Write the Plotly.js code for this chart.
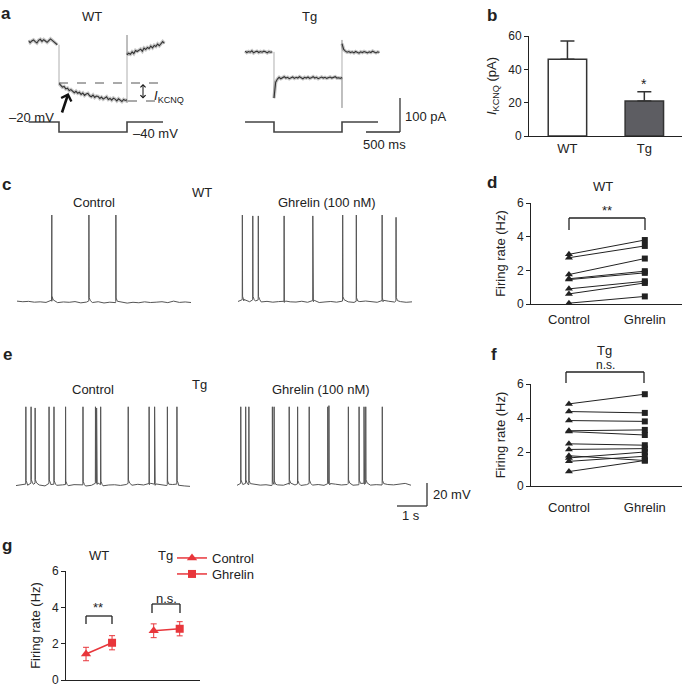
<!DOCTYPE html>
<html><head><meta charset="utf-8">
<script src="https://cdn.plot.ly/plotly-3.0.1.min.js"></script>
<style>html,body{margin:0;padding:0;background:#fff}#chart{width:685px;height:688px}</style>
</head><body><div id="chart"></div>
<script>
// ---------------- DATA ----------------
// Panel a: KCNQ current recordings (pA), sampled every 25 ms
const aDt = 25;
const wtPre  = [4,-2,3,6,1,-3,5,8,2,7,3,-1,4,9,5,1,-4,-8];
const wtStep = [-122,-127,-133,-131,-138,-136,-143,-140,-146,-149,-145,-151,-148,-154,-150,-157,-153,-151,-158,-161,-156,-163,-159,-160,-166,-162,-168,-164,-161,-169,-166,-171,-165,-168,-173,-167,-170,-175,-169,-172,-170];
const wtOff  = [-179, 29];
const wtPost = [-38,-33,-36,-29,-34,-25,-28,-24,-21,-27,-18,-22,-16,-19,-12,-17,-10,-13,-6,-11,-3,1,-4];
const tgPre  = [-27,-31,-28,-30,-26,-32,-29,-27,-31,-28,-30,-27,-29,-32,-28,-30,-29];
const tgStep = [-165,-118,-109,-104,-108,-105,-102,-106,-104,-108,-105,-103,-107,-104,-106,-102,-105,-108,-104,-106,-103,-107,-105,-102,-106,-104,-108,-105,-103,-106,-104,-107,-105,-103,-106,-104,-102,-106,-105,-107,-104];
const tgOff  = [-194, 6];
const tgPost = [-5,-22,-27,-30,-28,-31,-29,-32,-28,-30,-33,-29,-31,-28,-30,-32,-29,-31,-27,-30,-32,-29,-31];
// voltage protocol (ms, mV)
const protocolT_WT = [-450,0,0,1000,1000,1530];
const protocolT_Tg = [-426,0,0,1000,1000,1530];
const protocolV    = [-20,-20,-40,-40,-20,-20];

// Panel b
const bCats = ['WT','Tg'];
const bMeans = [46, 21];
const bErr = [11, 5.5];

// Panels c / e: membrane potential (mV), baseline sampled every 0.2 s; spike times (s) and peaks (mV)
const vDt = 0.2;
const cCtrlBase = [-55.3,-55.8,-55.5,-56.2,-55.9,-56.4,-55.4,-56.6,-56.0,-56.3,-55.7,-56.8,-56.1,-56.5,-55.8,-56.9,-56.2,-56.6,-56.0,-57.0,-56.3,-56.7,-55.9,-56.5,-56.2,-55.8,-56.6,-55.3,-56.4,-56.0,-56.5];
const cCtrlSpikes = [1.20,2.48,3.41];
const cCtrlPeaks  = [19.6,19.6,19.6];
const cGhrBase = [-55.6,-55.0,-55.8,-55.2,-56.0,-55.5,-56.2,-55.7,-56.4,-55.9,-56.1,-55.4,-56.3,-55.8,-56.5,-56.0,-55.6,-56.2,-55.3,-55.9,-56.4,-55.7,-55.2,-56.0,-56.3,-55.8,-55.4,-56.1,-55.7,-56.3,-55.9];
const cGhrSpikes = [0.15,0.51,0.70,1.59,2.58,3.61,4.08,4.97,5.45];
const cGhrPeaks  = [19.6,18.8,18.8,18.8,18.8,19.6,19.6,19.6,17.6];
const eCtrlBase = [-56.5,-55.8,-56.2,-55.4,-56.0,-56.8,-55.6,-56.3,-55.9,-56.6,-55.7,-56.1,-56.9,-56.3,-55.5,-56.7,-56.0,-55.8,-56.4,-55.6,-56.2,-55.4,-56.0,-55.7,-56.3,-55.9,-56.5,-55.6,-56.2,-56.8,-57.2];
const eCtrlSpikes = [0.34,0.52,0.66,1.14,1.31,1.71,2.31,2.74,2.78,2.92,3.87,4.59,4.78,5.22,5.55];
const eCtrlPeaks  = [12,12,11,12,12,12,12,12,11,12,12,12,12,12,12];
const eGhrBase = [-56.3,-55.6,-56.0,-55.4,-56.1,-55.8,-56.5,-55.9,-56.2,-55.5,-56.0,-56.4,-55.7,-56.1,-55.6,-56.3,-55.9,-55.3,-56.0,-55.6,-56.2,-55.8,-55.5,-56.1,-55.7,-56.0,-55.6,-55.9,-55.4,-54.6,-56.2];
const eGhrSpikes = [0.13,0.30,0.41,1.22,1.28,1.80,2.09,2.49,3.13,3.17,3.84,4.21,4.38,4.44,5.01];
const eGhrPeaks  = [12,12,12,12,12,12,12,12,12,13,12,12,12,12,12];

// Panels d / f: paired firing rates (Hz)
const condLabels = ['Control','Ghrelin'];
const dWTControl = [2.95,2.75,1.75,1.50,1.45,0.90,0.60,0.05];
const dWTGhrelin = [3.80,3.45,2.70,1.95,1.85,1.35,1.25,0.45];
const fTgControl = [4.83,4.38,3.85,3.25,3.20,2.48,2.15,1.78,1.65,1.45,0.85];
const fTgGhrelin = [5.40,4.30,3.80,3.30,3.00,2.40,2.20,1.50,2.00,1.75,1.50];

// Panel g: mean ± SEM firing rate (Hz)
const gGroups = ['WT','Tg'];
const gControlMean = [1.43, 2.71];
const gControlSem  = [0.37, 0.38];
const gGhrelinMean = [2.05, 2.82];
const gGhrelinSem  = [0.39, 0.39];

// ---------------- HELPERS ----------------
const W = 685, H = 688;
const X = px => px / W;
const Y = py => 1 - py / H;
const FONT = 'Liberation Sans, Arial, Helvetica, sans-serif';
const INK = '#222';
const RED = '#e8363b';
const TRACE = '#333';

// noisy segments (separated by gaps) and the fast transitions between them
function buildCurrent(pre, step, off, post){
  const x = [], y = [];
  pre.forEach((v,i)=>{ x.push((i - pre.length) * aDt); y.push(v); });
  x.push(null); y.push(null);
  step.forEach((v,i)=>{ x.push(i * aDt); y.push(v); });
  x.push(null); y.push(null);
  post.forEach((v,i)=>{ x.push(1000 + i * aDt); y.push(v); });
  const tx = [0, 0, null, 1000], ty = [pre[pre.length-1], step[0], null, step[step.length-1]];
  off.forEach(v=>{ tx.push(1000); ty.push(v); });
  tx.push(1000); ty.push(post[0]);
  return {x, y, tx, ty};
}
function buildSpikes(base, spikes, peaks){
  const pts = base.map((v,i)=>[i * vDt, v]);
  spikes.forEach((ts,k)=>{
    const vb = base[Math.min(base.length - 1, Math.round(ts / vDt))];
    pts.push([ts - 0.004, vb + 1], [ts, peaks[k]], [ts + 0.008, vb + 4], [ts + 0.05, vb + 1.2]);
  });
  pts.sort((a,b)=>a[0]-b[0]);
  return {x: pts.map(p=>p[0]), y: pts.map(p=>p[1])};
}

const traces = [];
// Panel a
[[buildCurrent(wtPre, wtStep, wtOff, wtPost),'x'],[buildCurrent(tgPre, tgStep, tgOff, tgPost),'x2']].forEach(([c,xa])=>{
  traces.push({x:c.tx, y:c.ty, xaxis:xa, yaxis:'y', mode:'lines', line:{color:'#9a9a9a', width:0.8}, showlegend:false, hoverinfo:'skip'});
  traces.push({x:c.x, y:c.y, xaxis:xa, yaxis:'y', mode:'lines', line:{color:'rgba(0,0,0,0.22)', width:3.5}, showlegend:false, hoverinfo:'skip'});
  traces.push({x:c.x, y:c.y, xaxis:xa, yaxis:'y', mode:'lines', line:{color:TRACE, width:1.1}, showlegend:false, hoverinfo:'skip'});
});
traces.push({x: protocolT_WT, y: protocolV, xaxis:'x', yaxis:'y2', mode:'lines', line:{color:'#444', width:1.6}, showlegend:false, hoverinfo:'skip'});
traces.push({x: protocolT_Tg, y: protocolV, xaxis:'x2', yaxis:'y2', mode:'lines', line:{color:'#444', width:1.6}, showlegend:false, hoverinfo:'skip'});

// Panels c, e
[[cCtrlBase,cCtrlSpikes,cCtrlPeaks,'x3','y3'],[cGhrBase,cGhrSpikes,cGhrPeaks,'x4','y3'],
 [eCtrlBase,eCtrlSpikes,eCtrlPeaks,'x5','y4'],[eGhrBase,eGhrSpikes,eGhrPeaks,'x6','y4']].forEach(([b,s,p,xa,ya])=>{
  const t = buildSpikes(b,s,p);
  traces.push({x:t.x, y:t.y, xaxis:xa, yaxis:ya, mode:'lines', line:{color:'#555', width:1}, showlegend:false, hoverinfo:'skip'});
});

// Panel b
traces.push({type:'bar', x: bCats.map((_,i)=>i), y: bMeans, xaxis:'x7', yaxis:'y5', width:0.5,
  marker:{color:['#ffffff','#5d5d62'], line:{color:'#333', width:1.5}},
  error_y:{type:'data', symmetric:false, array:bErr, arrayminus:[0,0], color:'#333', thickness:1.5, width:7},
  showlegend:false, hoverinfo:'skip'});

// Panels d, f (paired lines)
function pairedTraces(ctrl, ghr, xa, ya){
  const lx = [], ly = [];
  ctrl.forEach((v,i)=>{ lx.push(0,1,null); ly.push(v, ghr[i], null); });
  traces.push({x:lx, y:ly, xaxis:xa, yaxis:ya, mode:'lines', line:{color:INK, width:1}, showlegend:false, hoverinfo:'skip', cliponaxis:false});
  traces.push({x:ctrl.map(()=>0), y:ctrl, xaxis:xa, yaxis:ya, mode:'markers', marker:{symbol:'triangle-up', size:7, color:INK}, showlegend:false, hoverinfo:'skip', cliponaxis:false});
  traces.push({x:ghr.map(()=>1), y:ghr, xaxis:xa, yaxis:ya, mode:'markers', marker:{symbol:'square', size:6, color:INK}, showlegend:false, hoverinfo:'skip', cliponaxis:false});
}
pairedTraces(dWTControl, dWTGhrelin, 'x8', 'y6');
pairedTraces(fTgControl, fTgGhrelin, 'x9', 'y7');

// Panel g
const G_SPACING = 2.6;
const gx = (g, c) => g * G_SPACING + c;
gGroups.forEach((g,i)=>{
  traces.push({x:[gx(i,0), gx(i,1)], y:[gControlMean[i], gGhrelinMean[i]], xaxis:'x10', yaxis:'y8', mode:'lines', line:{color:RED, width:1.5}, showlegend:false, hoverinfo:'skip'});
});
traces.push({name:'Control', legend:'legend', x:[gx(0,0), null, gx(1,0)], y:[gControlMean[0], null, gControlMean[1]], xaxis:'x10', yaxis:'y8',
  mode:'lines+markers', connectgaps:false, line:{color:RED, width:1.5}, marker:{symbol:'triangle-up', size:9, color:RED},
  error_y:{type:'data', array:[gControlSem[0], 0, gControlSem[1]], color:RED, thickness:1, width:3}, hoverinfo:'skip', cliponaxis:false});
traces.push({name:'Ghrelin', legend:'legend2', x:[gx(0,1), null, gx(1,1)], y:[gGhrelinMean[0], null, gGhrelinMean[1]], xaxis:'x10', yaxis:'y8',
  mode:'lines+markers', connectgaps:false, line:{color:RED, width:1.5}, marker:{symbol:'square', size:8, color:RED},
  error_y:{type:'data', array:[gGhrelinSem[0], 0, gGhrelinSem[1]], color:RED, thickness:1, width:3}, hoverinfo:'skip', cliponaxis:false});

// ---------------- LAYOUT ----------------
const hid = (dom, range, anchor) => ({domain:dom, range, visible:false, fixedrange:true, anchor});
function yAx(top, bottom, range, tickvals, anchor, title, standoff){
  return {domain:[Y(bottom), Y(top)], range, tickvals, ticks:'outside', ticklen:4, tickwidth:1, tickcolor:INK,
    showline:true, linecolor:INK, linewidth:1, showgrid:false, zeroline:false, anchor,
    tickfont:{size:12, color:INK}, title:{text:title, font:{size:13, color:INK}, standoff}};
}
function xAx(l, r, labels, anchor, standoff){
  return {domain:[X(l), X(r)], range:[-0.5, 1.49], tickvals:labels.map((_,i)=>i), ticktext:labels, ticks:'',
    showline:true, linecolor:INK, linewidth:1, showgrid:false, zeroline:false, anchor,
    tickfont:{size:13, color:INK}, ticklabelstandoff:standoff};
}

const ann = [];
function txt(cx, cy, text, size, extra){ ann.push(Object.assign({xref:'paper', yref:'paper', x:X(cx), y:Y(cy), xanchor:'center', yanchor:'middle', showarrow:false, text, font:{size:size||13, color:INK, family:FONT}}, extra||{})); }
// panel letters
[['a',6,13],['b',492,15],['c',6,185],['d',492,183],['e',7,354],['f',494,354],['g',7,545]].forEach(([t,x,y])=>txt(x,y,'<b>'+t+'</b>',17));
// panel a
txt(92,16,'WT'); txt(309,16,'Tg');
txt(31,118,'–20 mV'); txt(155,133,'–40 mV');
txt(169,96,'<i>I</i><sub>KCNQ</sub>');
txt(426,117,'100 pA'); txt(384,144,'500 ms');
// panel b
txt(644,84,'*',14);
// panel c
txt(94,202,'Control'); txt(202,193,'WT'); txt(327,202,'Ghrelin (100 nM)');
// panel d
txt(603,186,'WT'); txt(607,210,'**',13);
// panel e
txt(93,389,'Control'); txt(199,384,'Tg'); txt(321,389,'Ghrelin (100 nM)');
txt(452,495,'20 mV'); txt(411,515,'1 s');
// panel f
txt(604,350,'Tg'); txt(605,365,'n.s.',12);
// panel g
txt(99,555,'WT'); txt(165,555,'Tg');
txt(98,607,'**'); txt(166,598,'n.s.');

// arrows in panel a
ann.push({xref:'paper', yref:'paper', x:X(68.5), y:Y(93), ax:X(61.5), ay:Y(114), axref:'paper', ayref:'paper', showarrow:true, arrowhead:4, arrowsize:0.8, arrowwidth:2.6, arrowcolor:'#111', text:''});
ann.push({xref:'paper', yref:'paper', x:X(143), y:Y(84), ax:X(143), ay:Y(100), axref:'paper', ayref:'paper', showarrow:true, arrowhead:4, startarrowhead:4, arrowside:'end+start', arrowsize:1, arrowwidth:1, arrowcolor:'#111', text:''});

const shapes = [];
function seg(x0,y0,x1,y1,color,width,dash){ shapes.push({type:'line', xref:'paper', yref:'paper', x0:X(x0), y0:Y(y0), x1:X(x1), y1:Y(y1), line:{color:color||INK, width:width||1, dash:dash||'solid'}}); }
function bracket(x0,x1,yTop,yBot,color){ seg(x0,yBot,x0,yTop,color,1.3); seg(x0,yTop,x1,yTop,color,1.3); seg(x1,yTop,x1,yBot,color,1.3); }
// panel a dashed + scale bar
seg(59,83,160,83,'#555',1,'dash'); seg(128,101,160,101,'#555',1,'dash');
seg(400,98,400,132,'#333',1.3); seg(366,132,400,132,'#333',1.3);
// panel e scale bar
seg(427,483,427,506,'#333',1.3); seg(397,506,427,506,'#333',1.3);
// brackets
bracket(569,645,218,230,INK);
bracket(566,644,372,383,INK);
bracket(86,112,616,624,INK);
bracket(152,180,604,613,INK);

const legendBase = {xanchor:'left', yanchor:'top', bgcolor:'rgba(0,0,0,0)', font:{size:13, color:INK}, itemwidth:30, tracegroupgap:0};
const layout = {
  width:W, height:H, margin:{l:0,r:0,t:0,b:0},
  paper_bgcolor:'#fff', plot_bgcolor:'rgba(0,0,0,0)',
  font:{family:FONT, size:13, color:INK},
  showlegend:true,
  legend: Object.assign({x:X(172), y:Y(543)}, legendBase),
  legend2: Object.assign({x:X(172), y:Y(559)}, legendBase),
  xaxis:  hid([X(28.4),X(167.8)], [-450,1600], 'y'),
  xaxis2: hid([X(243.4),X(382.8)], [-450,1600], 'y'),
  yaxis:  hid([Y(112),Y(35)], [-205.9,20.6], 'x'),
  yaxis2: hid([Y(137),Y(117)], [-50,-10], 'x'),
  xaxis3: hid([X(17),X(191)], [0,6], 'y3'),
  xaxis4: hid([X(238),X(412)], [0,6], 'y3'),
  yaxis3: hid([Y(310),Y(205)], [-63,28.3], 'x3'),
  xaxis5: hid([X(16),X(190)], [0,6], 'y4'),
  xaxis6: hid([X(237),X(411)], [0,6], 'y4'),
  yaxis4: hid([Y(495),Y(400)], [-64.7,17.9], 'x5'),
  xaxis7: xAx(529,682,bCats,'y5',0),
  yaxis5: yAx(36,136,[0,60],[0,20,40,60],'x7','<i>I</i><sub>KCNQ</sub> (pA)',8),
  xaxis8: xAx(531,682,condLabels,'y6',3),
  yaxis6: yAx(203,304,[0,6],[0,2,4,6],'x8','Firing rate (Hz)',8),
  xaxis9: xAx(531,682,condLabels,'y7',9),
  yaxis7: yAx(384,486,[0,6],[0,2,4,6],'x9','Firing rate (Hz)',8),
  xaxis10:{domain:[X(66),X(200)], range:[-0.77,4.38], showticklabels:false, ticks:'', showline:true, linecolor:INK, linewidth:1, showgrid:false, zeroline:false, anchor:'y8'},
  yaxis8: yAx(571,680,[0,6],[0,2,4,6],'x10','Firing rate (Hz)',8),
  annotations: ann,
  shapes: shapes
};

Plotly.newPlot('chart', traces, layout, {staticPlot:true, displayModeBar:false});
</script></body></html>
